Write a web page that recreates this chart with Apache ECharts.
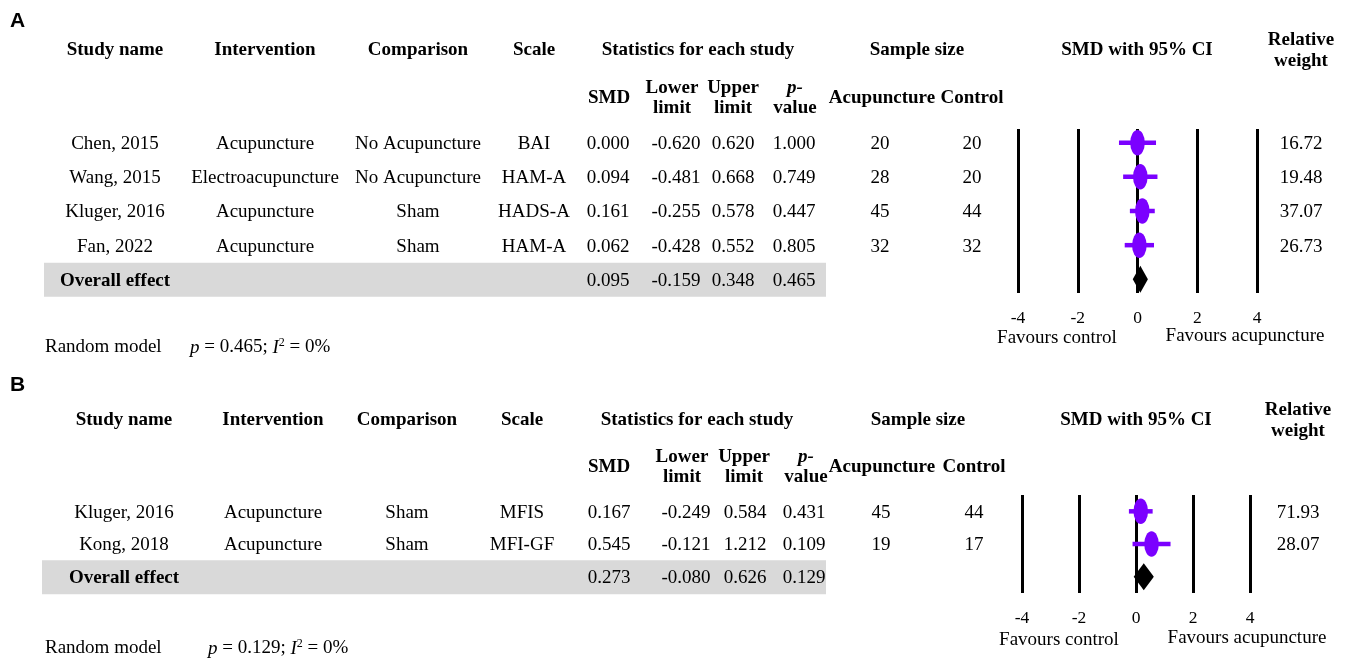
<!DOCTYPE html>
<html>
<head>
<meta charset="utf-8">
<script src="https://cdn.jsdelivr.net/npm/echarts@6/dist/echarts.min.js"></script>
<style>
  html, body { margin: 0; padding: 0; background: #fff; }
  #chart { width: 1346px; height: 660px; }
</style>
</head>
<body>
<div id="chart"></div>
<script>
// ---- Panel A: anxiety outcomes ----
const studiesA      = ['Chen, 2015', 'Wang, 2015', 'Kluger, 2016', 'Fan, 2022'];
const interventionA = ['Acupuncture', 'Electroacupuncture', 'Acupuncture', 'Acupuncture'];
const comparisonA   = ['No Acupuncture', 'No Acupuncture', 'Sham', 'Sham'];
const scaleA        = ['BAI', 'HAM-A', 'HADS-A', 'HAM-A'];
const smdA          = [0.000, 0.094, 0.161, 0.062];
const lowerA        = [-0.620, -0.481, -0.255, -0.428];
const upperA        = [0.620, 0.668, 0.578, 0.552];
const pValueA       = [1.000, 0.749, 0.447, 0.805];
const acuNA         = [20, 28, 45, 32];
const ctrlNA        = [20, 20, 44, 32];
const weightA       = [16.72, 19.48, 37.07, 26.73];
const overallA      = { smd: 0.095, lower: -0.159, upper: 0.348, p: 0.465 };
const modelA        = { p: 0.465, i2: 0 };

// ---- Panel B: fatigue outcomes ----
const studiesB      = ['Kluger, 2016', 'Kong, 2018'];
const interventionB = ['Acupuncture', 'Acupuncture'];
const comparisonB   = ['Sham', 'Sham'];
const scaleB        = ['MFIS', 'MFI-GF'];
const smdB          = [0.167, 0.545];
const lowerB        = [-0.249, -0.121];
const upperB        = [0.584, 1.212];
const pValueB       = [0.431, 0.109];
const acuNB         = [45, 19];
const ctrlNB        = [44, 17];
const weightB       = [71.93, 28.07];
const overallB      = { smd: 0.273, lower: -0.080, upper: 0.626, p: 0.129 };
const modelB        = { p: 0.129, i2: 0 };

const axisTicks = [-4, -2, 0, 2, 4];

const SERIF = 'Liberation Serif';
const SANS = 'Liberation Sans';
const PURPLE = '#7b00ff';
const FS = 19;
const TEXT_DY = 1.5;   // optical baseline nudge for serif text

const chart = echarts.init(document.getElementById('chart'), null, { renderer: 'canvas' });

function forestData(smd, lo, up) {
  return smd.map((v, i) => [v, lo[i], up[i], i]);
}

// confidence interval bar with an elliptical point estimate
function studyItem(params, api) {
  const row = api.value(3);
  const c = api.coord([api.value(0), row]);
  const l = api.coord([api.value(1), row]);
  const u = api.coord([api.value(2), row]);
  return {
    type: 'group',
    children: [
      { type: 'line', shape: { x1: l[0], y1: l[1], x2: u[0], y2: u[1] },
        style: { stroke: PURPLE, lineWidth: 4.5 } },
      { type: 'circle', shape: { cx: 0, cy: 0, r: 7.3 }, x: c[0], y: c[1], scaleY: 1.75,
        style: { fill: PURPLE } }
    ]
  };
}

// pooled estimate diamond spanning the confidence interval
function diamondItem(params, api) {
  const row = api.value(3);
  const c = api.coord([api.value(0), row]);
  const l = api.coord([api.value(1), row]);
  const u = api.coord([api.value(2), row]);
  const h = 13.5;
  return {
    type: 'polygon',
    shape: { points: [[l[0], c[1]], [c[0], c[1] - h], [u[0], c[1]], [c[0], c[1] + h]] },
    style: { fill: '#000' }
  };
}

function xAxisFor(gridIndex) {
  return {
    type: 'value', gridIndex, min: axisTicks[0], max: axisTicks[axisTicks.length - 1], interval: 2,
    axisLine: { show: false }, axisTick: { show: false },
    splitLine: { show: true, lineStyle: { color: '#000', width: 3 } },
    axisLabel: { color: '#000', fontFamily: SERIF, fontSize: 17.5, margin: 16 }
  };
}

function yAxisFor(gridIndex, min, max) {
  return {
    type: 'value', gridIndex, inverse: true, min, max,
    show: false, splitLine: { show: false }
  };
}

chart.setOption({
  animation: false,
  backgroundColor: '#fff',
  grid: [
    { left: 1018, width: 239, top: 129, height: 164 },
    { left: 1022, width: 228, top: 495, height: 98 }
  ],
  xAxis: [xAxisFor(0), xAxisFor(1)],
  yAxis: [yAxisFor(0, -0.4, 4.4), yAxisFor(1, -0.5, 2.5)],
  series: [
    { type: 'custom', xAxisIndex: 0, yAxisIndex: 0, renderItem: studyItem,
      encode: { x: [0, 1, 2], y: 3 }, data: forestData(smdA, lowerA, upperA), z: 3 },
    { type: 'custom', xAxisIndex: 0, yAxisIndex: 0, renderItem: diamondItem,
      encode: { x: [0, 1, 2], y: 3 },
      data: [[overallA.smd, overallA.lower, overallA.upper, studiesA.length]], z: 3 },
    { type: 'custom', xAxisIndex: 1, yAxisIndex: 1, renderItem: studyItem,
      encode: { x: [0, 1, 2], y: 3 }, data: forestData(smdB, lowerB, upperB), z: 3 },
    { type: 'custom', xAxisIndex: 1, yAxisIndex: 1, renderItem: diamondItem,
      encode: { x: [0, 1, 2], y: 3 },
      data: [[overallB.smd, overallB.lower, overallB.upper, studiesB.length]], z: 3 }
  ]
});

// ---- table text placed on the row positions of each forest grid ----
const g = [];

function txt(x, y, text, opt) {
  opt = opt || {};
  g.push({
    type: 'text', x, y: y + TEXT_DY, z: 10,
    style: Object.assign({
      text, fill: '#000', fontFamily: SERIF, fontSize: FS,
      fontWeight: opt.bold ? 'bold' : 'normal',
      align: opt.align || 'center', verticalAlign: 'middle'
    }, opt.style || {})
  });
}

function rowY(gridIndex, row) {
  return chart.convertToPixel({ gridIndex }, [0, row])[1];
}

const f3 = v => v.toFixed(3);

function panel(cfg) {
  const c = cfg.cols;
  const n = cfg.studies.length;
  const yo = rowY(cfg.grid, n);

  // shaded summary row
  g.push({ type: 'rect', z: 1, shape: { x: cfg.bandX0, y: yo - 16.5, width: cfg.bandX1 - cfg.bandX0, height: 34 },
           style: { fill: '#d9d9d9' } });

  // header line 1
  const h1 = cfg.headY;
  txt(c.name, h1, 'Study name', { bold: true });
  txt(c.inter, h1, 'Intervention', { bold: true });
  txt(c.comp, h1, 'Comparison', { bold: true });
  txt(c.scale, h1, 'Scale', { bold: true });
  txt(c.statsHead, h1, 'Statistics for each study', { bold: true });
  txt(c.sampleHead, h1, 'Sample size', { bold: true });
  txt(c.forestHead, h1, 'SMD with 95% CI', { bold: true });
  txt(c.weight, h1 - 10, 'Relative', { bold: true });
  txt(c.weight, h1 + 11, 'weight', { bold: true });

  // header line 2
  const h2 = cfg.subY;
  txt(c.smdH, h2, 'SMD', { bold: true });
  txt(c.lowH, h2 - 10, 'Lower', { bold: true });
  txt(c.lowH, h2 + 10, 'limit', { bold: true });
  txt(c.upH, h2 - 10, 'Upper', { bold: true });
  txt(c.upH, h2 + 10, 'limit', { bold: true });
  txt(c.pH, h2 - 10, 'p-', { bold: true, style: { fontStyle: 'italic' } });
  txt(c.pH, h2 + 10, 'value', { bold: true });
  txt(c.acuH, h2, 'Acupuncture', { bold: true });
  txt(c.ctrlH, h2, 'Control', { bold: true });

  // study rows
  for (let i = 0; i < n; i++) {
    const y = rowY(cfg.grid, i);
    txt(c.name, y, cfg.studies[i]);
    txt(c.inter, y, cfg.inter[i]);
    txt(c.comp, y, cfg.comp[i]);
    txt(c.scale, y, cfg.scale[i]);
    txt(c.smd, y, f3(cfg.smd[i]));
    txt(c.low, y, f3(cfg.lower[i]));
    txt(c.up, y, f3(cfg.upper[i]));
    txt(c.p, y, f3(cfg.p[i]));
    txt(c.acu, y, String(cfg.acu[i]));
    txt(c.ctrl, y, String(cfg.ctrl[i]));
    txt(c.weight, y, cfg.weight[i].toFixed(2));
  }

  // summary row
  txt(c.name, yo, 'Overall effect', { bold: true });
  txt(c.smd, yo, f3(cfg.overall.smd));
  txt(c.low, yo, f3(cfg.overall.lower));
  txt(c.up, yo, f3(cfg.overall.upper));
  txt(c.p, yo, f3(cfg.overall.p));

  // favours labels
  txt(cfg.favCtrlX, cfg.favY + 1, 'Favours control');
  txt(cfg.favAcuX, cfg.favY - 1, 'Favours acupuncture');

  // model line
  txt(45, cfg.modelY, 'Random model', { align: 'left' });
  g.push({
    type: 'text', x: cfg.modelX, y: cfg.modelY + TEXT_DY, z: 10,
    style: {
      text: '{i|p} = ' + f3(cfg.model.p) + '; {i|I}{s|2} = ' + cfg.model.i2 + '%',
      fill: '#000', fontFamily: SERIF, fontSize: FS, align: 'left', verticalAlign: 'middle',
      rich: {
        i: { fontFamily: SERIF, fontSize: FS, fontStyle: 'italic', fill: '#000' },
        s: { fontFamily: SERIF, fontSize: 12, fill: '#000', verticalAlign: 'top', padding: [0, 0, 9, 0] }
      }
    }
  });

  // panel letter
  g.push({
    type: 'text', x: 10, y: cfg.letterY, z: 10,
    style: { text: cfg.letter, fill: '#000', fontFamily: SANS, fontWeight: 'bold', fontSize: 21,
             align: 'left', verticalAlign: 'middle' }
  });
}

panel({
  grid: 0, letter: 'A', letterY: 21,
  studies: studiesA, inter: interventionA, comp: comparisonA, scale: scaleA,
  smd: smdA, lower: lowerA, upper: upperA, p: pValueA, acu: acuNA, ctrl: ctrlNA,
  weight: weightA, overall: overallA, model: modelA,
  headY: 49, subY: 97, bandX0: 44, bandX1: 826,
  favY: 336, favCtrlX: 1057, favAcuX: 1245, modelY: 346, modelX: 190,
  cols: {
    name: 115, inter: 265, comp: 418, scale: 534,
    statsHead: 698, sampleHead: 917, forestHead: 1137, weight: 1301,
    smdH: 609, lowH: 672, upH: 733, pH: 795, acuH: 882, ctrlH: 972,
    smd: 608, low: 676, up: 733, p: 794, acu: 880, ctrl: 972
  }
});

panel({
  grid: 1, letter: 'B', letterY: 385,
  studies: studiesB, inter: interventionB, comp: comparisonB, scale: scaleB,
  smd: smdB, lower: lowerB, upper: upperB, p: pValueB, acu: acuNB, ctrl: ctrlNB,
  weight: weightB, overall: overallB, model: modelB,
  headY: 419, subY: 466, bandX0: 42, bandX1: 826,
  favY: 638, favCtrlX: 1059, favAcuX: 1247, modelY: 647, modelX: 208,
  cols: {
    name: 124, inter: 273, comp: 407, scale: 522,
    statsHead: 697, sampleHead: 918, forestHead: 1136, weight: 1298,
    smdH: 609, lowH: 682, upH: 744, pH: 806, acuH: 882, ctrlH: 974,
    smd: 609, low: 686, up: 745, p: 804, acu: 881, ctrl: 974
  }
});

chart.setOption({ graphic: g });
</script>
</body>
</html>
